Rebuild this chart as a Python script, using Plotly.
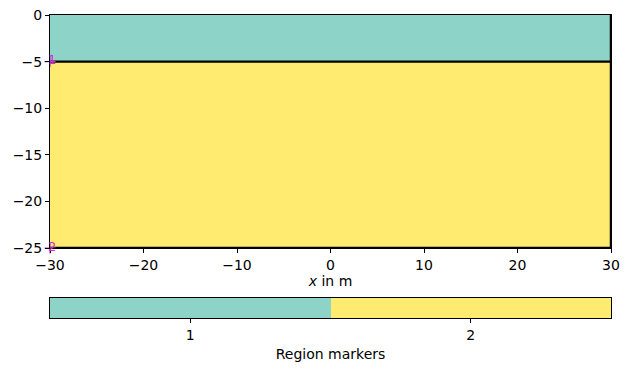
import plotly.graph_objects as go

# Data
x_edges = [-30, 30]
layer_depths = [0, -5, -25]
region_markers = [1, 2]
marker_x = [-30, -30]
marker_y = [-5, -25]
colors = ["#8dd3c7", "#ffeb70"]
cbar_ticks = [1, 2]

fig = go.Figure()

cs = [[0, colors[0]], [0.5, colors[0]], [0.5, colors[1]], [1, colors[1]]]

# mesh regions
fig.add_trace(go.Heatmap(
    x=x_edges, y=layer_depths, z=[[region_markers[0]], [region_markers[1]]],
    colorscale=cs, zmin=0.5, zmax=2.5, showscale=False, hoverinfo="skip",
    xaxis="x", yaxis="y"))

# boundaries
fig.add_trace(go.Scatter(x=[x_edges[0], x_edges[1]], y=[layer_depths[1]] * 2, mode="lines",
                         line=dict(color="black", width=2.2), showlegend=False, hoverinfo="skip"))
fig.add_trace(go.Scatter(x=[x_edges[0], x_edges[1], x_edges[1], x_edges[1]],
                         y=[layer_depths[2], layer_depths[2], layer_depths[2], layer_depths[0]],
                         mode="lines", line=dict(color="black", width=2.5),
                         showlegend=False, hoverinfo="skip", cliponaxis=False))

# region markers
fig.add_trace(go.Scatter(x=marker_x, y=marker_y, mode="markers",
                         marker=dict(symbol="cross-thin", size=8, line=dict(color="#cc33cc", width=1.2)),
                         showlegend=False, hoverinfo="skip", cliponaxis=False))
for mx, my, m in zip(marker_x, marker_y, region_markers):
    fig.add_annotation(x=mx, y=my, xref="x", yref="y", text=str(m), showarrow=False,
                       xshift=2, yshift=2,
                       font=dict(color="#cc33cc", size=13, family="DejaVu Sans"))

# colorbar as separate axis
fig.add_trace(go.Heatmap(x=cbar_ticks, y=[0], z=[region_markers], colorscale=cs,
                         zmin=0.5, zmax=2.5, showscale=False, hoverinfo="skip",
                         xaxis="x2", yaxis="y2"))

font = dict(family="DejaVu Sans", size=14, color="black")
fig.update_layout(
    width=630, height=372,
    margin=dict(l=50, r=19, t=15, b=54),
    plot_bgcolor="white", paper_bgcolor="white",
    font=font,
    xaxis=dict(domain=[0, 1], range=[-30, 30], tickvals=[-30, -20, -10, 0, 10, 20, 30],
               ticks="outside", ticklen=4, tickwidth=1, tickcolor="black",
               showline=True, linecolor="black", linewidth=1, mirror=True,
               showgrid=False, zeroline=False, anchor="y", automargin=False,
               title=dict(text="<i>x</i> in m", standoff=3, font=font)),
    yaxis=dict(domain=[0.231, 1], range=[-25, 0], tickvals=[0, -5, -10, -15, -20, -25],
               ticks="outside", ticklen=4, tickwidth=1, tickcolor="black",
               showline=True, linecolor="black", linewidth=1, mirror=True,
               showgrid=False, zeroline=False, anchor="x", automargin=False),
    xaxis2=dict(domain=[0, 1], range=[0.5, 2.5], tickvals=cbar_ticks,
                ticks="outside", ticklen=4, tickwidth=1, tickcolor="black",
                showline=True, linecolor="black", linewidth=1, mirror=True,
                showgrid=False, zeroline=False, anchor="y2", automargin=False,
                title=dict(text="Region markers", standoff=7, font=font)),
    yaxis2=dict(domain=[0, 0.066], range=[-0.5, 0.5], showticklabels=False, ticks="",
                showline=True, linecolor="black", linewidth=1, mirror=True,
                showgrid=False, zeroline=False, anchor="x2", automargin=False),
)

fig.write_html("out.html")
